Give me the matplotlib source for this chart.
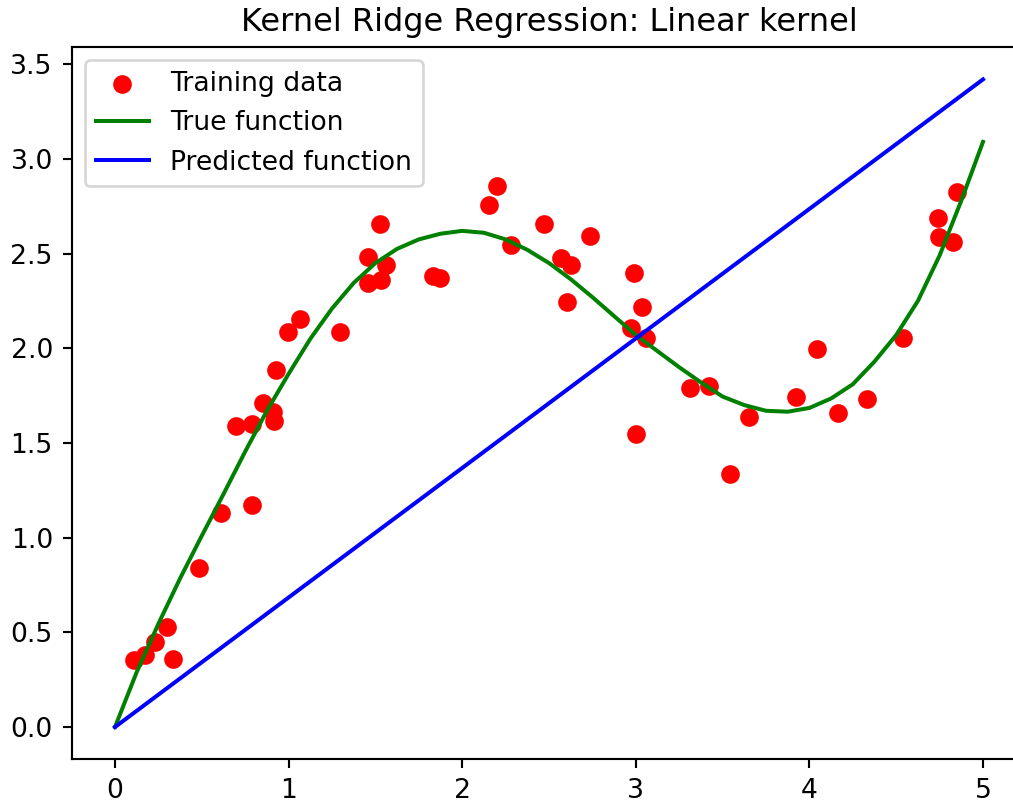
import matplotlib as mpl
mpl.use('Agg')
import matplotlib.pyplot as plt

# training samples
x_train = [0.109, 0.173, 0.230, 0.300, 0.334, 0.484, 0.611, 0.697, 0.789, 0.789,
           0.853, 0.910, 0.916, 0.927, 0.997, 1.066, 1.296, 1.457, 1.457, 1.527,
           1.532, 1.561, 1.832, 1.872, 2.154, 2.200, 2.281, 2.471, 2.569, 2.604,
           2.627, 2.736, 2.972, 2.990, 3.001, 3.036, 3.059, 3.312, 3.422, 3.543,
           3.652, 3.923, 4.044, 4.165, 4.332, 4.539, 4.741, 4.747, 4.827, 4.850]
y_train = [0.354, 0.380, 0.449, 0.528, 0.359, 0.839, 1.130, 1.589, 1.172, 1.600,
           1.711, 1.663, 1.616, 1.885, 2.086, 2.154, 2.086, 2.480, 2.344, 2.656,
           2.360, 2.440, 2.380, 2.370, 2.756, 2.857, 2.545, 2.656, 2.476, 2.244,
           2.440, 2.592, 2.107, 2.397, 1.547, 2.218, 2.054, 1.790, 1.800, 1.336,
           1.637, 1.742, 1.996, 1.658, 1.732, 2.054, 2.687, 2.587, 2.561, 2.825]

# true function sampled along the green curve (step 0.125)
x_true = [0.0, 0.125, 0.25, 0.375, 0.5, 0.625, 0.75, 0.875,
          1.0, 1.125, 1.25, 1.375, 1.5, 1.625, 1.75, 1.875,
          2.0, 2.125, 2.25, 2.375, 2.5, 2.625, 2.75, 2.875,
          3.0, 3.125, 3.25, 3.375, 3.5, 3.625, 3.75, 3.875,
          4.0, 4.125, 4.25, 4.375, 4.5, 4.625, 4.75, 4.875, 5.0]
y_true = [0.0, 0.29, 0.545, 0.785, 1.01, 1.23, 1.455, 1.67,
          1.865, 2.05, 2.21, 2.345, 2.45, 2.525, 2.575, 2.605,
          2.62, 2.61, 2.575, 2.52, 2.45, 2.365, 2.27, 2.17,
          2.07, 1.985, 1.90, 1.82, 1.745, 1.70, 1.67, 1.665,
          1.685, 1.735, 1.81, 1.93, 2.07, 2.25, 2.49, 2.78, 3.09]

# linear kernel prediction
x_pred = [0.0, 5.0]
y_pred = [0.0, 3.42]

fig = plt.figure(figsize=(1013 / 192, 803 / 192), dpi=192)
ax = fig.add_axes([71.6 / 1013, (803 - 759.4) / 803, 954.8 / 1013, 712.4 / 803])
ax.scatter(x_train, y_train, color='red', label='Training data')
ax.plot(x_true, y_true, color='green', label='True function')
ax.plot(x_pred, y_pred, color='blue', label='Predicted function')
ax.set_title('Kernel Ridge Regression: Linear kernel')
ax.legend(loc='upper left')
fig.savefig('out.png', dpi=192)
plt.close(fig)
